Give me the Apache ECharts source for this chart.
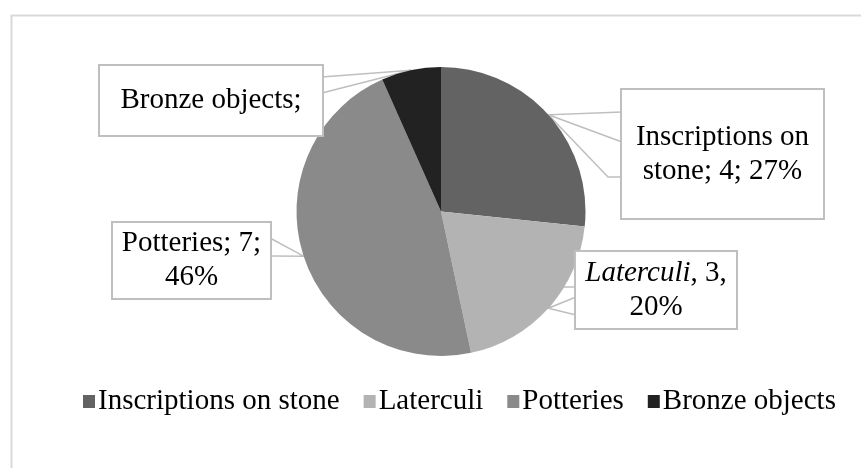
<!DOCTYPE html>
<html>
<head>
<meta charset="utf-8">
<script src="https://cdn.jsdelivr.net/npm/echarts@6/dist/echarts.min.js"></script>
<style>html,body{margin:0;padding:0;background:#fff}#c{width:861px;height:468px}</style>
</head>
<body>
<div id="c"></div>
<script>
const categories = ['Inscriptions on stone', 'Laterculi', 'Potteries', 'Bronze objects'];
const values = [4, 3, 7, 1];
const labelTexts = ['Inscriptions on\nstone; 4; 27%', '{i|Laterculi}, 3,\n20%', 'Potteries; 7;\n46%', 'Bronze objects;'];
const colors = ['#636363', '#b3b3b3', '#8a8a8a', '#222222'];

// label callout boxes: [left, top, right, bottom]
const boxes = [[622, 90, 823, 218], [576, 252, 736, 328], [113, 223, 270, 298], [100, 66, 322, 135]];
// callout wedge anchors on box edge (tip inserted between)
const wedges = [
  [[622, 112], 'T', [622, 142], 'T', [608, 177], [622, 177]],
  [[576, 297], 'T', [576, 315], 'T', [563, 287], [576, 287]],
  [[270, 238], 'T', [270, 256]],
  [[322, 77], 'T', [322, 93]]
];
const LH = 34;
const FONT = 'Liberation Serif, Times New Roman, serif';

const data = categories.map((n, i) => {
  const b = boxes[i];
  const lines = labelTexts[i].split('\n').length;
  const h = b[3] - b[1];
  const pv = (h - lines * LH) / 2;
  return {
    name: n, value: values[i],
    itemStyle: { color: colors[i] },
    label: { formatter: labelTexts[i], width: b[2] - b[0], padding: [pv, 0, pv, 0] }
  };
});

const chart = echarts.init(document.getElementById('c'), null, { renderer: 'canvas' });
chart.setOption({
  animation: false,
  graphic: [{ type: 'rect', left: 9, top: 13, silent: true, z: -1,
    shape: { width: 900, height: 500 }, style: { fill: 'none', stroke: '#d9d9d9', lineWidth: 2 } }],
  legend: {
    data: categories,
    left: 78, top: 382,
    icon: 'rect', itemWidth: 12, itemHeight: 13, itemGap: 24,
    textStyle: { fontFamily: FONT, fontSize: 29, color: '#000', padding: [0, 0, 0, -2] },
    selectedMode: false
  },
  series: [{
    type: 'pie',
    center: [441, 211.5],
    radius: 144.5,
    startAngle: 90,
    clockwise: true,
    silent: true,
    emphasis: { disabled: true },
    itemStyle: { borderWidth: 0 },
    label: {
      show: true, position: 'outside',
      fontFamily: FONT, fontSize: 29, color: '#000', lineHeight: LH,
      align: 'center', overflow: 'none',
      backgroundColor: '#fff', borderColor: '#bfbfbf', borderWidth: 2,
      rich: { i: { fontStyle: 'italic', fontFamily: FONT, fontSize: 29, color: '#000', lineHeight: LH } }
    },
    labelLine: { show: true, lineStyle: { color: '#bfbfbf', width: 1.5 } },
    labelLayout: function (p) {
      const i = p.dataIndex;
      const b = boxes[i];
      const tip = p.labelLinePoints ? p.labelLinePoints[0] : null;
      const out = { x: (b[0] + b[2]) / 2, y: (b[1] + b[3]) / 2, align: 'center', verticalAlign: 'middle' };
      if (tip) out.labelLinePoints = wedges[i].map(q => q === 'T' ? [tip[0], tip[1]] : q);
      return out;
    },
    data: data
  }]
});
</script>
</body>
</html>
